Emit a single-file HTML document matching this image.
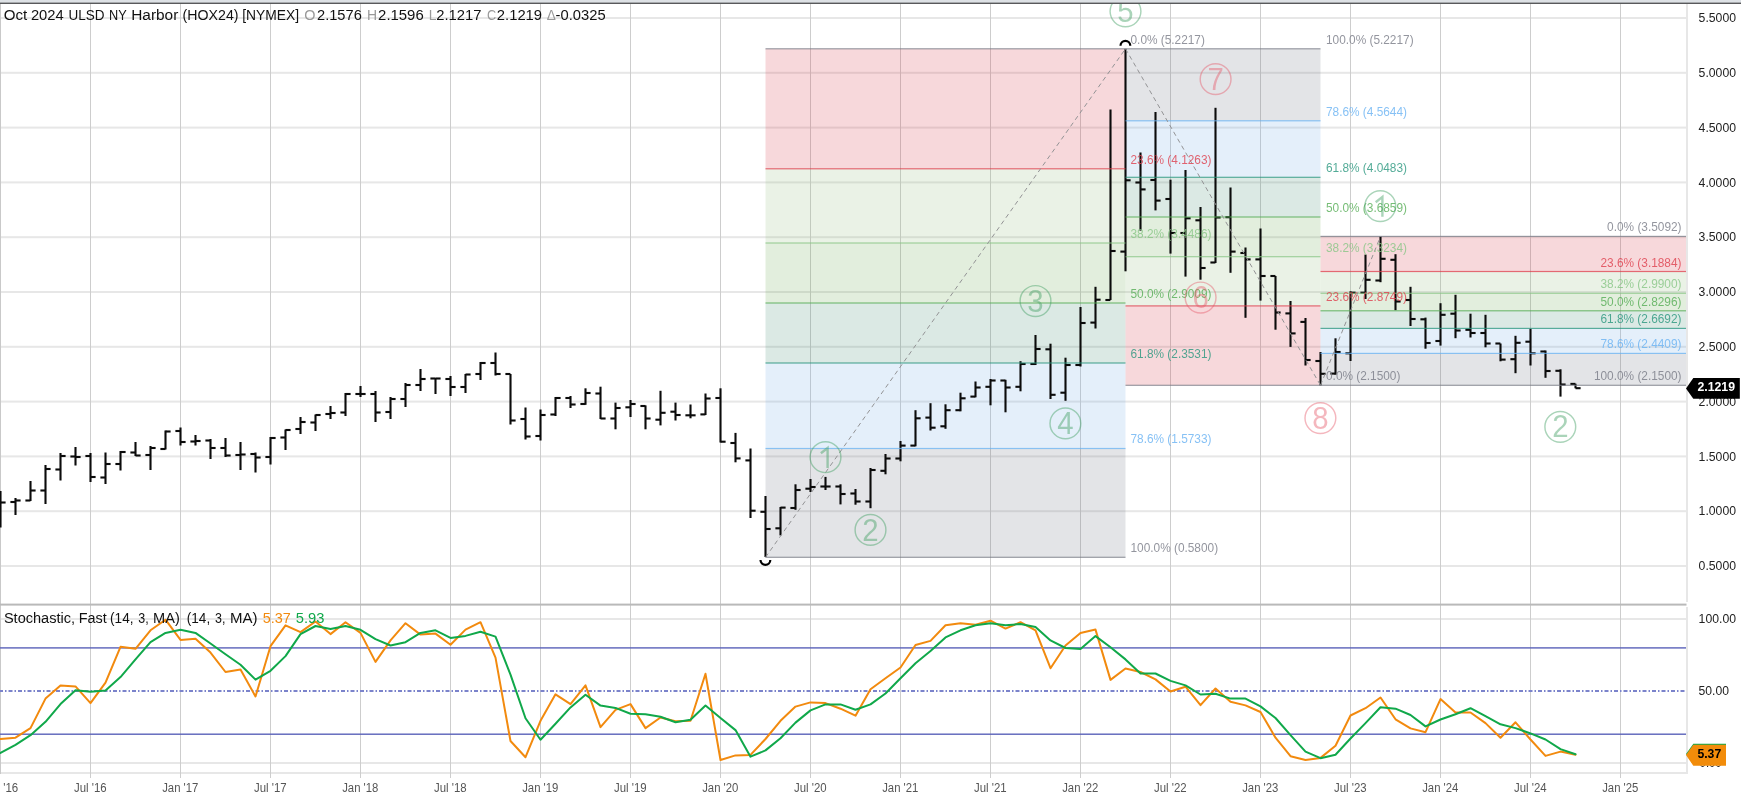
<!DOCTYPE html>
<html><head><meta charset="utf-8"><title>HOX24 chart</title>
<style>html,body{margin:0;padding:0;background:#fff;overflow:hidden}body{width:1741px;height:800px;font-family:"Liberation Sans",sans-serif}</style></head>
<body>
<svg width="1741" height="800" viewBox="0 0 1741 800" style="display:block">
<rect x="0" y="0" width="1741" height="800" fill="#ffffff"/>
<defs><filter id="nf" x="0" y="0" width="100%" height="100%" filterUnits="userSpaceOnUse" color-interpolation-filters="sRGB"><feOffset dx="0" dy="0"/></filter></defs>
<g filter="url(#nf)">
<rect x="0" y="17.0" width="1686.0" height="2" fill="#e7e7e7"/>
<rect x="0" y="71.8" width="1686.0" height="2" fill="#e7e7e7"/>
<rect x="0" y="126.6" width="1686.0" height="2" fill="#e7e7e7"/>
<rect x="0" y="181.4" width="1686.0" height="2" fill="#e7e7e7"/>
<rect x="0" y="236.2" width="1686.0" height="2" fill="#e7e7e7"/>
<rect x="0" y="291.0" width="1686.0" height="2" fill="#e7e7e7"/>
<rect x="0" y="345.8" width="1686.0" height="2" fill="#e7e7e7"/>
<rect x="0" y="400.6" width="1686.0" height="2" fill="#e7e7e7"/>
<rect x="0" y="455.4" width="1686.0" height="2" fill="#e7e7e7"/>
<rect x="0" y="510.2" width="1686.0" height="2" fill="#e7e7e7"/>
<rect x="0" y="565.0" width="1686.0" height="2" fill="#e7e7e7"/>
<rect x="0" y="618" width="1686.0" height="2" fill="#e7e7e7"/>
<rect x="0" y="762" width="1686.0" height="2" fill="#e7e7e7"/>
<rect x="0" y="772" width="1688.0" height="2" fill="#e7e7e7"/>
<rect x="90" y="4" width="1" height="774" fill="#cdcdcd"/>
<rect x="180" y="4" width="1" height="774" fill="#cdcdcd"/>
<rect x="270" y="4" width="1" height="774" fill="#cdcdcd"/>
<rect x="360" y="4" width="1" height="774" fill="#cdcdcd"/>
<rect x="450" y="4" width="1" height="774" fill="#cdcdcd"/>
<rect x="540" y="4" width="1" height="774" fill="#cdcdcd"/>
<rect x="630" y="4" width="1" height="774" fill="#cdcdcd"/>
<rect x="720" y="4" width="1" height="774" fill="#cdcdcd"/>
<rect x="810" y="4" width="1" height="774" fill="#cdcdcd"/>
<rect x="900" y="4" width="1" height="774" fill="#cdcdcd"/>
<rect x="990" y="4" width="1" height="774" fill="#cdcdcd"/>
<rect x="1080" y="4" width="1" height="774" fill="#cdcdcd"/>
<rect x="1170" y="4" width="1" height="774" fill="#cdcdcd"/>
<rect x="1260" y="4" width="1" height="774" fill="#cdcdcd"/>
<rect x="1350" y="4" width="1" height="774" fill="#cdcdcd"/>
<rect x="1440" y="4" width="1" height="774" fill="#cdcdcd"/>
<rect x="1530" y="4" width="1" height="774" fill="#cdcdcd"/>
<rect x="1620" y="4" width="1" height="774" fill="#cdcdcd"/>
<rect x="0" y="4" width="1" height="770" fill="#c9c9c9"/>
<rect x="765.5" y="48.8" width="360.0" height="120.0" fill="rgba(215,62,76,0.2)"/>
<rect x="765.5" y="168.8" width="360.0" height="74.2" fill="rgba(150,192,130,0.2)"/>
<rect x="765.5" y="243.0" width="360.0" height="60.0" fill="rgba(112,172,84,0.2)"/>
<rect x="765.5" y="303.0" width="360.0" height="60.0" fill="rgba(76,146,122,0.2)"/>
<rect x="765.5" y="363.0" width="360.0" height="85.4" fill="rgba(122,175,232,0.2)"/>
<rect x="765.5" y="448.5" width="360.0" height="108.8" fill="rgba(114,119,134,0.2)"/>
<rect x="1125.5" y="305.9" width="195.0" height="79.4" fill="rgba(215,62,76,0.2)"/>
<rect x="1125.5" y="256.7" width="195.0" height="49.1" fill="rgba(150,192,130,0.2)"/>
<rect x="1125.5" y="217.0" width="195.0" height="39.7" fill="rgba(112,172,84,0.2)"/>
<rect x="1125.5" y="177.3" width="195.0" height="39.7" fill="rgba(76,146,122,0.2)"/>
<rect x="1125.5" y="120.8" width="195.0" height="56.5" fill="rgba(122,175,232,0.2)"/>
<rect x="1125.5" y="48.8" width="195.0" height="72.0" fill="rgba(114,119,134,0.2)"/>
<rect x="1320.5" y="236.4" width="366.0" height="35.1" fill="rgba(215,62,76,0.2)"/>
<rect x="1320.5" y="271.5" width="366.0" height="21.7" fill="rgba(150,192,130,0.2)"/>
<rect x="1320.5" y="293.3" width="366.0" height="17.6" fill="rgba(112,172,84,0.2)"/>
<rect x="1320.5" y="310.8" width="366.0" height="17.6" fill="rgba(76,146,122,0.2)"/>
<rect x="1320.5" y="328.4" width="366.0" height="25.0" fill="rgba(122,175,232,0.2)"/>
<rect x="1320.5" y="353.4" width="366.0" height="31.9" fill="rgba(114,119,134,0.2)"/>
<rect x="-0.55" y="491.0" width="2.1" height="36.5" fill="#0b0b0b"/>
<rect x="-4.6" y="500.95" width="5" height="2.1" fill="#0b0b0b"/>
<rect x="0.5" y="501.45" width="5.1" height="2.1" fill="#0b0b0b"/>
<rect x="14.45" y="498.0" width="2.1" height="17.0" fill="#0b0b0b"/>
<rect x="10.4" y="500.95" width="5" height="2.1" fill="#0b0b0b"/>
<rect x="15.5" y="499.45" width="5.1" height="2.1" fill="#0b0b0b"/>
<rect x="29.45" y="481.0" width="2.1" height="20.0" fill="#0b0b0b"/>
<rect x="25.4" y="499.45" width="5" height="2.1" fill="#0b0b0b"/>
<rect x="30.5" y="489.45" width="5.1" height="2.1" fill="#0b0b0b"/>
<rect x="44.45" y="465.0" width="2.1" height="39.0" fill="#0b0b0b"/>
<rect x="40.4" y="489.45" width="5" height="2.1" fill="#0b0b0b"/>
<rect x="45.5" y="467.95" width="5.1" height="2.1" fill="#0b0b0b"/>
<rect x="59.45" y="453.0" width="2.1" height="27.5" fill="#0b0b0b"/>
<rect x="55.4" y="468.45" width="5" height="2.1" fill="#0b0b0b"/>
<rect x="60.5" y="454.95" width="5.1" height="2.1" fill="#0b0b0b"/>
<rect x="74.45" y="447.0" width="2.1" height="18.5" fill="#0b0b0b"/>
<rect x="70.4" y="455.45" width="5" height="2.1" fill="#0b0b0b"/>
<rect x="75.5" y="455.95" width="5.1" height="2.1" fill="#0b0b0b"/>
<rect x="89.45" y="453.0" width="2.1" height="29.0" fill="#0b0b0b"/>
<rect x="85.4" y="454.95" width="5" height="2.1" fill="#0b0b0b"/>
<rect x="90.5" y="475.95" width="5.1" height="2.1" fill="#0b0b0b"/>
<rect x="104.45" y="452.5" width="2.1" height="31.5" fill="#0b0b0b"/>
<rect x="100.4" y="476.45" width="5" height="2.1" fill="#0b0b0b"/>
<rect x="105.5" y="462.95" width="5.1" height="2.1" fill="#0b0b0b"/>
<rect x="119.45" y="451.0" width="2.1" height="19.5" fill="#0b0b0b"/>
<rect x="115.4" y="462.95" width="5" height="2.1" fill="#0b0b0b"/>
<rect x="120.5" y="450.95" width="5.1" height="2.1" fill="#0b0b0b"/>
<rect x="134.45" y="442.0" width="2.1" height="14.0" fill="#0b0b0b"/>
<rect x="130.4" y="451.45" width="5" height="2.1" fill="#0b0b0b"/>
<rect x="135.5" y="454.45" width="5.1" height="2.1" fill="#0b0b0b"/>
<rect x="149.45" y="446.0" width="2.1" height="24.0" fill="#0b0b0b"/>
<rect x="145.4" y="453.95" width="5" height="2.1" fill="#0b0b0b"/>
<rect x="150.5" y="446.95" width="5.1" height="2.1" fill="#0b0b0b"/>
<rect x="164.45" y="430.5" width="2.1" height="19.0" fill="#0b0b0b"/>
<rect x="160.4" y="447.95" width="5" height="2.1" fill="#0b0b0b"/>
<rect x="165.5" y="430.45" width="5.1" height="2.1" fill="#0b0b0b"/>
<rect x="179.45" y="427.5" width="2.1" height="18.0" fill="#0b0b0b"/>
<rect x="175.4" y="429.95" width="5" height="2.1" fill="#0b0b0b"/>
<rect x="180.5" y="440.95" width="5.1" height="2.1" fill="#0b0b0b"/>
<rect x="194.45" y="435.0" width="2.1" height="10.5" fill="#0b0b0b"/>
<rect x="190.4" y="440.45" width="5" height="2.1" fill="#0b0b0b"/>
<rect x="195.5" y="439.95" width="5.1" height="2.1" fill="#0b0b0b"/>
<rect x="209.45" y="439.0" width="2.1" height="20.0" fill="#0b0b0b"/>
<rect x="205.4" y="439.45" width="5" height="2.1" fill="#0b0b0b"/>
<rect x="210.5" y="446.95" width="5.1" height="2.1" fill="#0b0b0b"/>
<rect x="224.45" y="438.0" width="2.1" height="19.0" fill="#0b0b0b"/>
<rect x="220.4" y="446.95" width="5" height="2.1" fill="#0b0b0b"/>
<rect x="225.5" y="454.45" width="5.1" height="2.1" fill="#0b0b0b"/>
<rect x="239.45" y="442.0" width="2.1" height="28.0" fill="#0b0b0b"/>
<rect x="235.4" y="453.95" width="5" height="2.1" fill="#0b0b0b"/>
<rect x="240.5" y="453.45" width="5.1" height="2.1" fill="#0b0b0b"/>
<rect x="254.45" y="452.5" width="2.1" height="20.0" fill="#0b0b0b"/>
<rect x="250.4" y="452.95" width="5" height="2.1" fill="#0b0b0b"/>
<rect x="255.5" y="456.45" width="5.1" height="2.1" fill="#0b0b0b"/>
<rect x="269.45" y="437.0" width="2.1" height="27.5" fill="#0b0b0b"/>
<rect x="265.4" y="455.95" width="5" height="2.1" fill="#0b0b0b"/>
<rect x="270.5" y="436.95" width="5.1" height="2.1" fill="#0b0b0b"/>
<rect x="284.45" y="429.5" width="2.1" height="20.5" fill="#0b0b0b"/>
<rect x="280.4" y="436.45" width="5" height="2.1" fill="#0b0b0b"/>
<rect x="285.5" y="428.95" width="5.1" height="2.1" fill="#0b0b0b"/>
<rect x="299.45" y="417.0" width="2.1" height="17.0" fill="#0b0b0b"/>
<rect x="295.4" y="427.95" width="5" height="2.1" fill="#0b0b0b"/>
<rect x="300.5" y="420.95" width="5.1" height="2.1" fill="#0b0b0b"/>
<rect x="314.45" y="414.5" width="2.1" height="16.5" fill="#0b0b0b"/>
<rect x="310.4" y="421.45" width="5" height="2.1" fill="#0b0b0b"/>
<rect x="315.5" y="413.95" width="5.1" height="2.1" fill="#0b0b0b"/>
<rect x="329.45" y="406.0" width="2.1" height="13.0" fill="#0b0b0b"/>
<rect x="325.4" y="412.95" width="5" height="2.1" fill="#0b0b0b"/>
<rect x="330.5" y="411.95" width="5.1" height="2.1" fill="#0b0b0b"/>
<rect x="344.45" y="393.0" width="2.1" height="23.0" fill="#0b0b0b"/>
<rect x="340.4" y="411.45" width="5" height="2.1" fill="#0b0b0b"/>
<rect x="345.5" y="392.95" width="5.1" height="2.1" fill="#0b0b0b"/>
<rect x="359.45" y="386.0" width="2.1" height="11.0" fill="#0b0b0b"/>
<rect x="355.4" y="392.95" width="5" height="2.1" fill="#0b0b0b"/>
<rect x="360.5" y="392.95" width="5.1" height="2.1" fill="#0b0b0b"/>
<rect x="374.45" y="391.0" width="2.1" height="31.0" fill="#0b0b0b"/>
<rect x="370.4" y="392.95" width="5" height="2.1" fill="#0b0b0b"/>
<rect x="375.5" y="411.45" width="5.1" height="2.1" fill="#0b0b0b"/>
<rect x="389.45" y="397.0" width="2.1" height="22.0" fill="#0b0b0b"/>
<rect x="385.4" y="410.95" width="5" height="2.1" fill="#0b0b0b"/>
<rect x="390.5" y="397.95" width="5.1" height="2.1" fill="#0b0b0b"/>
<rect x="404.45" y="383.0" width="2.1" height="24.0" fill="#0b0b0b"/>
<rect x="400.4" y="397.95" width="5" height="2.1" fill="#0b0b0b"/>
<rect x="405.5" y="383.95" width="5.1" height="2.1" fill="#0b0b0b"/>
<rect x="419.45" y="369.0" width="2.1" height="22.0" fill="#0b0b0b"/>
<rect x="415.4" y="383.95" width="5" height="2.1" fill="#0b0b0b"/>
<rect x="420.5" y="377.95" width="5.1" height="2.1" fill="#0b0b0b"/>
<rect x="434.45" y="378.0" width="2.1" height="16.0" fill="#0b0b0b"/>
<rect x="430.4" y="377.45" width="5" height="2.1" fill="#0b0b0b"/>
<rect x="435.5" y="377.45" width="5.1" height="2.1" fill="#0b0b0b"/>
<rect x="449.45" y="376.0" width="2.1" height="20.0" fill="#0b0b0b"/>
<rect x="445.4" y="377.95" width="5" height="2.1" fill="#0b0b0b"/>
<rect x="450.5" y="385.95" width="5.1" height="2.1" fill="#0b0b0b"/>
<rect x="464.45" y="374.0" width="2.1" height="19.0" fill="#0b0b0b"/>
<rect x="460.4" y="385.95" width="5" height="2.1" fill="#0b0b0b"/>
<rect x="465.5" y="373.45" width="5.1" height="2.1" fill="#0b0b0b"/>
<rect x="479.45" y="362.0" width="2.1" height="18.0" fill="#0b0b0b"/>
<rect x="475.4" y="372.95" width="5" height="2.1" fill="#0b0b0b"/>
<rect x="480.5" y="361.95" width="5.1" height="2.1" fill="#0b0b0b"/>
<rect x="494.45" y="352.5" width="2.1" height="23.0" fill="#0b0b0b"/>
<rect x="490.4" y="361.95" width="5" height="2.1" fill="#0b0b0b"/>
<rect x="495.5" y="372.95" width="5.1" height="2.1" fill="#0b0b0b"/>
<rect x="509.45" y="374.0" width="2.1" height="50.5" fill="#0b0b0b"/>
<rect x="505.4" y="372.95" width="5" height="2.1" fill="#0b0b0b"/>
<rect x="510.5" y="419.45" width="5.1" height="2.1" fill="#0b0b0b"/>
<rect x="524.45" y="407.5" width="2.1" height="32.0" fill="#0b0b0b"/>
<rect x="520.4" y="417.95" width="5" height="2.1" fill="#0b0b0b"/>
<rect x="525.5" y="435.45" width="5.1" height="2.1" fill="#0b0b0b"/>
<rect x="539.45" y="409.5" width="2.1" height="31.0" fill="#0b0b0b"/>
<rect x="535.4" y="434.95" width="5" height="2.1" fill="#0b0b0b"/>
<rect x="540.5" y="413.95" width="5.1" height="2.1" fill="#0b0b0b"/>
<rect x="554.45" y="397.0" width="2.1" height="19.0" fill="#0b0b0b"/>
<rect x="550.4" y="413.45" width="5" height="2.1" fill="#0b0b0b"/>
<rect x="555.5" y="396.95" width="5.1" height="2.1" fill="#0b0b0b"/>
<rect x="569.45" y="396.0" width="2.1" height="12.0" fill="#0b0b0b"/>
<rect x="565.4" y="396.95" width="5" height="2.1" fill="#0b0b0b"/>
<rect x="570.5" y="403.45" width="5.1" height="2.1" fill="#0b0b0b"/>
<rect x="584.45" y="388.3" width="2.1" height="16.5" fill="#0b0b0b"/>
<rect x="580.4" y="402.95" width="5" height="2.1" fill="#0b0b0b"/>
<rect x="585.5" y="391.95" width="5.1" height="2.1" fill="#0b0b0b"/>
<rect x="599.45" y="386.7" width="2.1" height="32.3" fill="#0b0b0b"/>
<rect x="595.4" y="392.45" width="5" height="2.1" fill="#0b0b0b"/>
<rect x="600.5" y="417.45" width="5.1" height="2.1" fill="#0b0b0b"/>
<rect x="614.45" y="402.6" width="2.1" height="26.7" fill="#0b0b0b"/>
<rect x="610.4" y="417.45" width="5" height="2.1" fill="#0b0b0b"/>
<rect x="615.5" y="406.95" width="5.1" height="2.1" fill="#0b0b0b"/>
<rect x="629.45" y="400.0" width="2.1" height="17.0" fill="#0b0b0b"/>
<rect x="625.4" y="406.25" width="5" height="2.1" fill="#0b0b0b"/>
<rect x="630.5" y="402.95" width="5.1" height="2.1" fill="#0b0b0b"/>
<rect x="644.45" y="405.4" width="2.1" height="23.9" fill="#0b0b0b"/>
<rect x="640.4" y="404.95" width="5" height="2.1" fill="#0b0b0b"/>
<rect x="645.5" y="417.45" width="5.1" height="2.1" fill="#0b0b0b"/>
<rect x="659.45" y="390.8" width="2.1" height="34.6" fill="#0b0b0b"/>
<rect x="655.4" y="418.65" width="5" height="2.1" fill="#0b0b0b"/>
<rect x="660.5" y="411.75" width="5.1" height="2.1" fill="#0b0b0b"/>
<rect x="674.45" y="402.6" width="2.1" height="17.9" fill="#0b0b0b"/>
<rect x="670.4" y="410.65" width="5" height="2.1" fill="#0b0b0b"/>
<rect x="675.5" y="413.95" width="5.1" height="2.1" fill="#0b0b0b"/>
<rect x="689.45" y="404.5" width="2.1" height="13.8" fill="#0b0b0b"/>
<rect x="685.4" y="414.25" width="5" height="2.1" fill="#0b0b0b"/>
<rect x="690.5" y="414.25" width="5.1" height="2.1" fill="#0b0b0b"/>
<rect x="704.45" y="393.5" width="2.1" height="21.5" fill="#0b0b0b"/>
<rect x="700.4" y="413.35" width="5" height="2.1" fill="#0b0b0b"/>
<rect x="705.5" y="397.45" width="5.1" height="2.1" fill="#0b0b0b"/>
<rect x="719.45" y="388.3" width="2.1" height="54.2" fill="#0b0b0b"/>
<rect x="715.4" y="396.95" width="5" height="2.1" fill="#0b0b0b"/>
<rect x="720.5" y="440.65" width="5.1" height="2.1" fill="#0b0b0b"/>
<rect x="734.45" y="432.9" width="2.1" height="29.4" fill="#0b0b0b"/>
<rect x="730.4" y="441.95" width="5" height="2.1" fill="#0b0b0b"/>
<rect x="735.5" y="457.35" width="5.1" height="2.1" fill="#0b0b0b"/>
<rect x="749.45" y="448.5" width="2.1" height="69.5" fill="#0b0b0b"/>
<rect x="745.4" y="459.35" width="5" height="2.1" fill="#0b0b0b"/>
<rect x="750.5" y="509.65" width="5.1" height="2.1" fill="#0b0b0b"/>
<rect x="764.45" y="496.0" width="2.1" height="61.0" fill="#0b0b0b"/>
<rect x="760.4" y="510.75" width="5" height="2.1" fill="#0b0b0b"/>
<rect x="765.5" y="527.95" width="5.1" height="2.1" fill="#0b0b0b"/>
<rect x="779.45" y="507.0" width="2.1" height="28.4" fill="#0b0b0b"/>
<rect x="775.4" y="527.25" width="5" height="2.1" fill="#0b0b0b"/>
<rect x="780.5" y="506.55" width="5.1" height="2.1" fill="#0b0b0b"/>
<rect x="794.45" y="484.3" width="2.1" height="25.5" fill="#0b0b0b"/>
<rect x="790.4" y="506.95" width="5" height="2.1" fill="#0b0b0b"/>
<rect x="795.5" y="488.95" width="5.1" height="2.1" fill="#0b0b0b"/>
<rect x="809.45" y="479.0" width="2.1" height="13.0" fill="#0b0b0b"/>
<rect x="805.4" y="487.65" width="5" height="2.1" fill="#0b0b0b"/>
<rect x="810.5" y="485.95" width="5.1" height="2.1" fill="#0b0b0b"/>
<rect x="824.45" y="476.9" width="2.1" height="13.1" fill="#0b0b0b"/>
<rect x="820.4" y="485.45" width="5" height="2.1" fill="#0b0b0b"/>
<rect x="825.5" y="485.45" width="5.1" height="2.1" fill="#0b0b0b"/>
<rect x="839.45" y="484.3" width="2.1" height="20.1" fill="#0b0b0b"/>
<rect x="835.4" y="485.45" width="5" height="2.1" fill="#0b0b0b"/>
<rect x="840.5" y="492.95" width="5.1" height="2.1" fill="#0b0b0b"/>
<rect x="854.45" y="489.0" width="2.1" height="15.7" fill="#0b0b0b"/>
<rect x="850.4" y="492.45" width="5" height="2.1" fill="#0b0b0b"/>
<rect x="855.5" y="500.45" width="5.1" height="2.1" fill="#0b0b0b"/>
<rect x="869.45" y="468.0" width="2.1" height="40.2" fill="#0b0b0b"/>
<rect x="865.4" y="500.45" width="5" height="2.1" fill="#0b0b0b"/>
<rect x="870.5" y="468.95" width="5.1" height="2.1" fill="#0b0b0b"/>
<rect x="884.45" y="454.0" width="2.1" height="20.3" fill="#0b0b0b"/>
<rect x="880.4" y="469.75" width="5" height="2.1" fill="#0b0b0b"/>
<rect x="885.5" y="457.45" width="5.1" height="2.1" fill="#0b0b0b"/>
<rect x="899.45" y="441.0" width="2.1" height="20.3" fill="#0b0b0b"/>
<rect x="895.4" y="457.45" width="5" height="2.1" fill="#0b0b0b"/>
<rect x="900.5" y="444.55" width="5.1" height="2.1" fill="#0b0b0b"/>
<rect x="914.45" y="410.2" width="2.1" height="36.1" fill="#0b0b0b"/>
<rect x="910.4" y="444.55" width="5" height="2.1" fill="#0b0b0b"/>
<rect x="915.5" y="417.25" width="5.1" height="2.1" fill="#0b0b0b"/>
<rect x="929.45" y="403.2" width="2.1" height="27.3" fill="#0b0b0b"/>
<rect x="925.4" y="416.55" width="5" height="2.1" fill="#0b0b0b"/>
<rect x="930.5" y="426.65" width="5.1" height="2.1" fill="#0b0b0b"/>
<rect x="944.45" y="404.3" width="2.1" height="24.5" fill="#0b0b0b"/>
<rect x="940.4" y="425.25" width="5" height="2.1" fill="#0b0b0b"/>
<rect x="945.5" y="409.15" width="5.1" height="2.1" fill="#0b0b0b"/>
<rect x="959.45" y="392.7" width="2.1" height="18.6" fill="#0b0b0b"/>
<rect x="955.4" y="409.15" width="5" height="2.1" fill="#0b0b0b"/>
<rect x="960.5" y="397.25" width="5.1" height="2.1" fill="#0b0b0b"/>
<rect x="974.45" y="381.5" width="2.1" height="15.8" fill="#0b0b0b"/>
<rect x="970.4" y="395.55" width="5" height="2.1" fill="#0b0b0b"/>
<rect x="975.5" y="386.45" width="5.1" height="2.1" fill="#0b0b0b"/>
<rect x="989.45" y="379.0" width="2.1" height="26.3" fill="#0b0b0b"/>
<rect x="985.4" y="385.75" width="5" height="2.1" fill="#0b0b0b"/>
<rect x="990.5" y="379.45" width="5.1" height="2.1" fill="#0b0b0b"/>
<rect x="1004.45" y="379.8" width="2.1" height="32.5" fill="#0b0b0b"/>
<rect x="1000.4" y="379.45" width="5" height="2.1" fill="#0b0b0b"/>
<rect x="1005.5" y="386.45" width="5.1" height="2.1" fill="#0b0b0b"/>
<rect x="1019.45" y="361.2" width="2.1" height="30.1" fill="#0b0b0b"/>
<rect x="1015.4" y="385.75" width="5" height="2.1" fill="#0b0b0b"/>
<rect x="1020.5" y="362.95" width="5.1" height="2.1" fill="#0b0b0b"/>
<rect x="1034.45" y="335.0" width="2.1" height="30.0" fill="#0b0b0b"/>
<rect x="1030.4" y="362.95" width="5" height="2.1" fill="#0b0b0b"/>
<rect x="1035.5" y="347.95" width="5.1" height="2.1" fill="#0b0b0b"/>
<rect x="1049.45" y="343.7" width="2.1" height="55.3" fill="#0b0b0b"/>
<rect x="1045.4" y="348.25" width="5" height="2.1" fill="#0b0b0b"/>
<rect x="1050.5" y="393.75" width="5.1" height="2.1" fill="#0b0b0b"/>
<rect x="1064.45" y="357.7" width="2.1" height="43.1" fill="#0b0b0b"/>
<rect x="1060.4" y="391.65" width="5" height="2.1" fill="#0b0b0b"/>
<rect x="1065.5" y="363.95" width="5.1" height="2.1" fill="#0b0b0b"/>
<rect x="1079.45" y="307.0" width="2.1" height="59.5" fill="#0b0b0b"/>
<rect x="1075.4" y="363.95" width="5" height="2.1" fill="#0b0b0b"/>
<rect x="1080.5" y="321.95" width="5.1" height="2.1" fill="#0b0b0b"/>
<rect x="1094.45" y="286.8" width="2.1" height="41.7" fill="#0b0b0b"/>
<rect x="1090.4" y="321.55" width="5" height="2.1" fill="#0b0b0b"/>
<rect x="1095.5" y="298.65" width="5.1" height="2.1" fill="#0b0b0b"/>
<rect x="1109.45" y="109.5" width="2.1" height="190.5" fill="#0b0b0b"/>
<rect x="1105.4" y="298.95" width="5" height="2.1" fill="#0b0b0b"/>
<rect x="1110.5" y="249.95" width="5.1" height="2.1" fill="#0b0b0b"/>
<rect x="1124.45" y="48.8" width="2.1" height="222.5" fill="#0b0b0b"/>
<rect x="1120.4" y="250.55" width="5" height="2.1" fill="#0b0b0b"/>
<rect x="1125.5" y="179.25" width="5.1" height="2.1" fill="#0b0b0b"/>
<rect x="1139.45" y="152.5" width="2.1" height="78.1" fill="#0b0b0b"/>
<rect x="1135.4" y="181.45" width="5" height="2.1" fill="#0b0b0b"/>
<rect x="1140.5" y="188.35" width="5.1" height="2.1" fill="#0b0b0b"/>
<rect x="1154.45" y="112.0" width="2.1" height="98.4" fill="#0b0b0b"/>
<rect x="1150.4" y="178.95" width="5" height="2.1" fill="#0b0b0b"/>
<rect x="1155.5" y="199.55" width="5.1" height="2.1" fill="#0b0b0b"/>
<rect x="1169.45" y="179.7" width="2.1" height="73.9" fill="#0b0b0b"/>
<rect x="1165.4" y="197.95" width="5" height="2.1" fill="#0b0b0b"/>
<rect x="1170.5" y="231.95" width="5.1" height="2.1" fill="#0b0b0b"/>
<rect x="1184.45" y="170.0" width="2.1" height="106.6" fill="#0b0b0b"/>
<rect x="1180.4" y="231.95" width="5" height="2.1" fill="#0b0b0b"/>
<rect x="1185.5" y="217.25" width="5.1" height="2.1" fill="#0b0b0b"/>
<rect x="1199.45" y="207.0" width="2.1" height="72.7" fill="#0b0b0b"/>
<rect x="1195.4" y="219.25" width="5" height="2.1" fill="#0b0b0b"/>
<rect x="1200.5" y="266.95" width="5.1" height="2.1" fill="#0b0b0b"/>
<rect x="1214.45" y="107.8" width="2.1" height="155.2" fill="#0b0b0b"/>
<rect x="1210.4" y="261.45" width="5" height="2.1" fill="#0b0b0b"/>
<rect x="1215.5" y="216.45" width="5.1" height="2.1" fill="#0b0b0b"/>
<rect x="1229.45" y="187.5" width="2.1" height="85.3" fill="#0b0b0b"/>
<rect x="1225.4" y="216.15" width="5" height="2.1" fill="#0b0b0b"/>
<rect x="1230.5" y="250.55" width="5.1" height="2.1" fill="#0b0b0b"/>
<rect x="1244.45" y="247.5" width="2.1" height="70.3" fill="#0b0b0b"/>
<rect x="1240.4" y="251.95" width="5" height="2.1" fill="#0b0b0b"/>
<rect x="1245.5" y="258.35" width="5.1" height="2.1" fill="#0b0b0b"/>
<rect x="1259.45" y="228.5" width="2.1" height="72.1" fill="#0b0b0b"/>
<rect x="1255.4" y="258.35" width="5" height="2.1" fill="#0b0b0b"/>
<rect x="1260.5" y="274.95" width="5.1" height="2.1" fill="#0b0b0b"/>
<rect x="1274.45" y="276.0" width="2.1" height="53.7" fill="#0b0b0b"/>
<rect x="1270.4" y="274.95" width="5" height="2.1" fill="#0b0b0b"/>
<rect x="1275.5" y="311.45" width="5.1" height="2.1" fill="#0b0b0b"/>
<rect x="1289.45" y="301.0" width="2.1" height="45.9" fill="#0b0b0b"/>
<rect x="1285.4" y="312.35" width="5" height="2.1" fill="#0b0b0b"/>
<rect x="1290.5" y="332.35" width="5.1" height="2.1" fill="#0b0b0b"/>
<rect x="1304.45" y="318.0" width="2.1" height="47.5" fill="#0b0b0b"/>
<rect x="1300.4" y="320.85" width="5" height="2.1" fill="#0b0b0b"/>
<rect x="1305.5" y="358.95" width="5.1" height="2.1" fill="#0b0b0b"/>
<rect x="1319.45" y="352.0" width="2.1" height="33.5" fill="#0b0b0b"/>
<rect x="1315.4" y="359.95" width="5" height="2.1" fill="#0b0b0b"/>
<rect x="1320.5" y="372.75" width="5.1" height="2.1" fill="#0b0b0b"/>
<rect x="1334.45" y="338.3" width="2.1" height="36.4" fill="#0b0b0b"/>
<rect x="1330.4" y="372.55" width="5" height="2.1" fill="#0b0b0b"/>
<rect x="1335.5" y="350.95" width="5.1" height="2.1" fill="#0b0b0b"/>
<rect x="1349.45" y="291.3" width="2.1" height="69.7" fill="#0b0b0b"/>
<rect x="1345.4" y="352.25" width="5" height="2.1" fill="#0b0b0b"/>
<rect x="1350.5" y="291.65" width="5.1" height="2.1" fill="#0b0b0b"/>
<rect x="1364.45" y="254.6" width="2.1" height="44.4" fill="#0b0b0b"/>
<rect x="1360.4" y="291.65" width="5" height="2.1" fill="#0b0b0b"/>
<rect x="1365.5" y="278.75" width="5.1" height="2.1" fill="#0b0b0b"/>
<rect x="1379.45" y="236.5" width="2.1" height="45.7" fill="#0b0b0b"/>
<rect x="1375.4" y="279.45" width="5" height="2.1" fill="#0b0b0b"/>
<rect x="1380.5" y="257.75" width="5.1" height="2.1" fill="#0b0b0b"/>
<rect x="1394.45" y="254.2" width="2.1" height="56.0" fill="#0b0b0b"/>
<rect x="1390.4" y="258.75" width="5" height="2.1" fill="#0b0b0b"/>
<rect x="1395.5" y="300.45" width="5.1" height="2.1" fill="#0b0b0b"/>
<rect x="1409.45" y="286.8" width="2.1" height="39.2" fill="#0b0b0b"/>
<rect x="1405.4" y="298.95" width="5" height="2.1" fill="#0b0b0b"/>
<rect x="1410.5" y="317.95" width="5.1" height="2.1" fill="#0b0b0b"/>
<rect x="1424.45" y="317.6" width="2.1" height="31.1" fill="#0b0b0b"/>
<rect x="1420.4" y="318.25" width="5" height="2.1" fill="#0b0b0b"/>
<rect x="1425.5" y="341.95" width="5.1" height="2.1" fill="#0b0b0b"/>
<rect x="1439.45" y="303.2" width="2.1" height="42.4" fill="#0b0b0b"/>
<rect x="1435.4" y="339.95" width="5" height="2.1" fill="#0b0b0b"/>
<rect x="1440.5" y="313.75" width="5.1" height="2.1" fill="#0b0b0b"/>
<rect x="1454.45" y="294.8" width="2.1" height="43.4" fill="#0b0b0b"/>
<rect x="1450.4" y="312.65" width="5" height="2.1" fill="#0b0b0b"/>
<rect x="1455.5" y="329.45" width="5.1" height="2.1" fill="#0b0b0b"/>
<rect x="1469.45" y="313.7" width="2.1" height="23.8" fill="#0b0b0b"/>
<rect x="1465.4" y="328.75" width="5" height="2.1" fill="#0b0b0b"/>
<rect x="1470.5" y="331.95" width="5.1" height="2.1" fill="#0b0b0b"/>
<rect x="1484.45" y="314.8" width="2.1" height="32.5" fill="#0b0b0b"/>
<rect x="1480.4" y="331.95" width="5" height="2.1" fill="#0b0b0b"/>
<rect x="1485.5" y="342.45" width="5.1" height="2.1" fill="#0b0b0b"/>
<rect x="1499.45" y="343.5" width="2.1" height="17.8" fill="#0b0b0b"/>
<rect x="1495.4" y="342.45" width="5" height="2.1" fill="#0b0b0b"/>
<rect x="1500.5" y="358.55" width="5.1" height="2.1" fill="#0b0b0b"/>
<rect x="1514.45" y="335.8" width="2.1" height="37.4" fill="#0b0b0b"/>
<rect x="1510.4" y="358.15" width="5" height="2.1" fill="#0b0b0b"/>
<rect x="1515.5" y="341.75" width="5.1" height="2.1" fill="#0b0b0b"/>
<rect x="1529.45" y="328.8" width="2.1" height="36.7" fill="#0b0b0b"/>
<rect x="1525.4" y="340.65" width="5" height="2.1" fill="#0b0b0b"/>
<rect x="1530.5" y="352.25" width="5.1" height="2.1" fill="#0b0b0b"/>
<rect x="1544.45" y="350.5" width="2.1" height="27.3" fill="#0b0b0b"/>
<rect x="1540.4" y="350.45" width="5" height="2.1" fill="#0b0b0b"/>
<rect x="1545.5" y="369.95" width="5.1" height="2.1" fill="#0b0b0b"/>
<rect x="1559.45" y="369.3" width="2.1" height="27.3" fill="#0b0b0b"/>
<rect x="1555.4" y="369.75" width="5" height="2.1" fill="#0b0b0b"/>
<rect x="1560.5" y="383.45" width="5.1" height="2.1" fill="#0b0b0b"/>
<rect x="1574.45" y="383.7" width="2.1" height="4.6" fill="#0b0b0b"/>
<rect x="1570.4" y="382.85" width="5" height="2.1" fill="#0b0b0b"/>
<rect x="1575.5" y="387.15" width="5.1" height="2.1" fill="#0b0b0b"/>
<rect x="765.5" y="48.2" width="360.0" height="1.2" fill="rgba(120,123,134,0.75)"/>
<rect x="765.5" y="168.2" width="360.0" height="1.2" fill="rgba(222,62,76,0.75)"/>
<rect x="765.5" y="242.4" width="360.0" height="1.2" fill="rgba(135,198,132,0.75)"/>
<rect x="765.5" y="302.4" width="360.0" height="1.2" fill="rgba(84,172,84,0.75)"/>
<rect x="765.5" y="362.4" width="360.0" height="1.2" fill="rgba(40,150,125,0.75)"/>
<rect x="765.5" y="447.9" width="360.0" height="1.2" fill="rgba(104,178,242,0.75)"/>
<rect x="765.5" y="556.7" width="360.0" height="1.2" fill="rgba(120,123,134,0.75)"/>
<rect x="1125.5" y="384.7" width="195.0" height="1.2" fill="rgba(120,123,134,0.75)"/>
<rect x="1125.5" y="305.3" width="195.0" height="1.2" fill="rgba(222,62,76,0.75)"/>
<rect x="1125.5" y="256.1" width="195.0" height="1.2" fill="rgba(135,198,132,0.75)"/>
<rect x="1125.5" y="216.4" width="195.0" height="1.2" fill="rgba(84,172,84,0.75)"/>
<rect x="1125.5" y="176.7" width="195.0" height="1.2" fill="rgba(40,150,125,0.75)"/>
<rect x="1125.5" y="120.2" width="195.0" height="1.2" fill="rgba(104,178,242,0.75)"/>
<rect x="1125.5" y="48.2" width="195.0" height="1.2" fill="rgba(120,123,134,0.75)"/>
<rect x="1320.5" y="235.8" width="366.0" height="1.2" fill="rgba(120,123,134,0.75)"/>
<rect x="1320.5" y="270.9" width="366.0" height="1.2" fill="rgba(222,62,76,0.75)"/>
<rect x="1320.5" y="292.7" width="366.0" height="1.2" fill="rgba(135,198,132,0.75)"/>
<rect x="1320.5" y="310.2" width="366.0" height="1.2" fill="rgba(84,172,84,0.75)"/>
<rect x="1320.5" y="327.8" width="366.0" height="1.2" fill="rgba(40,150,125,0.75)"/>
<rect x="1320.5" y="352.8" width="366.0" height="1.2" fill="rgba(104,178,242,0.75)"/>
<rect x="1320.5" y="384.7" width="366.0" height="1.2" fill="rgba(120,123,134,0.75)"/>
<line x1="765.5" y1="557.3" x2="1125.5" y2="48.8" stroke="#929294" stroke-width="1" stroke-dasharray="4.5,3.5" fill="none"/>
<line x1="1125.5" y1="48.8" x2="1320.5" y2="385.3" stroke="#929294" stroke-width="1" stroke-dasharray="4.5,3.5" fill="none"/>
<line x1="1320.5" y1="385.3" x2="1380.5" y2="236.4" stroke="#929294" stroke-width="1" stroke-dasharray="4.5,3.5" fill="none"/>
<path d="M760.5 560 a4.9 4.9 0 0 0 9.8 0" stroke="#000" stroke-width="2.2" fill="none"/>
<path d="M1120.5 45.8 a4.9 4.9 0 0 1 9.8 0" stroke="#000" stroke-width="2.2" fill="none"/>
<text x="1130.5" y="44.2" font-family="Liberation Sans, sans-serif" font-size="11.85" fill="rgba(120,123,134,0.8)">0.0% (5.2217)</text>
<text x="1130.5" y="163.7" font-family="Liberation Sans, sans-serif" font-size="11.85" fill="rgba(222,62,76,0.8)">23.6% (4.1263)</text>
<text x="1130.5" y="238.4" font-family="Liberation Sans, sans-serif" font-size="11.85" fill="rgba(135,198,132,0.8)">38.2% (3.4486)</text>
<text x="1130.5" y="298.4" font-family="Liberation Sans, sans-serif" font-size="11.85" fill="rgba(84,172,84,0.8)">50.0% (2.9009)</text>
<text x="1130.5" y="358.4" font-family="Liberation Sans, sans-serif" font-size="11.85" fill="rgba(40,150,125,0.8)">61.8% (2.3531)</text>
<text x="1130.5" y="442.9" font-family="Liberation Sans, sans-serif" font-size="11.85" fill="rgba(104,178,242,0.8)">78.6% (1.5733)</text>
<text x="1130.5" y="551.5" font-family="Liberation Sans, sans-serif" font-size="11.85" fill="rgba(120,123,134,0.8)">100.0% (0.5800)</text>
<text x="1326" y="379.7" font-family="Liberation Sans, sans-serif" font-size="11.85" fill="rgba(120,123,134,0.8)">0.0% (2.1500)</text>
<text x="1326" y="301.3" font-family="Liberation Sans, sans-serif" font-size="11.85" fill="rgba(222,62,76,0.8)">23.6% (2.8749)</text>
<text x="1326" y="252.1" font-family="Liberation Sans, sans-serif" font-size="11.85" fill="rgba(135,198,132,0.8)">38.2% (3.3234)</text>
<text x="1326" y="212.4" font-family="Liberation Sans, sans-serif" font-size="11.85" fill="rgba(84,172,84,0.8)">50.0% (3.6859)</text>
<text x="1326" y="171.7" font-family="Liberation Sans, sans-serif" font-size="11.85" fill="rgba(40,150,125,0.8)">61.8% (4.0483)</text>
<text x="1326" y="116.2" font-family="Liberation Sans, sans-serif" font-size="11.85" fill="rgba(104,178,242,0.8)">78.6% (4.5644)</text>
<text x="1326" y="44.2" font-family="Liberation Sans, sans-serif" font-size="11.85" fill="rgba(120,123,134,0.8)">100.0% (5.2217)</text>
<text x="1681.5" y="230.8" font-family="Liberation Sans, sans-serif" font-size="11.85" fill="rgba(120,123,134,0.8)" text-anchor="end">0.0% (3.5092)</text>
<text x="1681.5" y="266.9" font-family="Liberation Sans, sans-serif" font-size="11.85" fill="rgba(222,62,76,0.8)" text-anchor="end">23.6% (3.1884)</text>
<text x="1681.5" y="287.7" font-family="Liberation Sans, sans-serif" font-size="11.85" fill="rgba(135,198,132,0.8)" text-anchor="end">38.2% (2.9900)</text>
<text x="1681.5" y="306.2" font-family="Liberation Sans, sans-serif" font-size="11.85" fill="rgba(84,172,84,0.8)" text-anchor="end">50.0% (2.8296)</text>
<text x="1681.5" y="323.3" font-family="Liberation Sans, sans-serif" font-size="11.85" fill="rgba(40,150,125,0.8)" text-anchor="end">61.8% (2.6692)</text>
<text x="1681.5" y="347.8" font-family="Liberation Sans, sans-serif" font-size="11.85" fill="rgba(104,178,242,0.8)" text-anchor="end">78.6% (2.4409)</text>
<text x="1681.5" y="379.7" font-family="Liberation Sans, sans-serif" font-size="11.85" fill="rgba(120,123,134,0.8)" text-anchor="end">100.0% (2.1500)</text>
<circle cx="825.5" cy="457.2" r="15.4" fill="none" stroke="rgba(66,160,100,0.45)" stroke-width="1.45"/>
<path d="M820.9 453.3 L827.6 448.0 L827.6 467.9" fill="none" stroke="rgba(66,160,100,0.45)" stroke-width="2.4" stroke-linejoin="miter"/>
<circle cx="870.5" cy="529.9" r="15.4" fill="none" stroke="rgba(66,160,100,0.45)" stroke-width="1.45"/>
<text transform="translate(870.5,540.5) scale(0.93,1)" x="0" y="0" font-family="Liberation Sans, sans-serif" font-size="31.6" fill="rgba(66,160,100,0.45)" text-anchor="middle">2</text>
<circle cx="1035.5" cy="301" r="15.4" fill="none" stroke="rgba(66,160,100,0.45)" stroke-width="1.45"/>
<text transform="translate(1035.5,311.6) scale(0.93,1)" x="0" y="0" font-family="Liberation Sans, sans-serif" font-size="31.6" fill="rgba(66,160,100,0.45)" text-anchor="middle">3</text>
<circle cx="1065.4" cy="423.4" r="15.4" fill="none" stroke="rgba(66,160,100,0.45)" stroke-width="1.45"/>
<text transform="translate(1065.4,434.0) scale(0.93,1)" x="0" y="0" font-family="Liberation Sans, sans-serif" font-size="31.6" fill="rgba(66,160,100,0.45)" text-anchor="middle">4</text>
<circle cx="1125.5" cy="11.3" r="15.4" fill="none" stroke="rgba(66,160,100,0.45)" stroke-width="1.45"/>
<text transform="translate(1125.5,21.9) scale(0.93,1)" x="0" y="0" font-family="Liberation Sans, sans-serif" font-size="31.6" fill="rgba(66,160,100,0.45)" text-anchor="middle">5</text>
<circle cx="1200.6" cy="297.5" r="15.4" fill="none" stroke="rgba(228,84,100,0.42)" stroke-width="1.45"/>
<text transform="translate(1200.6,308.1) scale(0.93,1)" x="0" y="0" font-family="Liberation Sans, sans-serif" font-size="31.6" fill="rgba(228,84,100,0.42)" text-anchor="middle">6</text>
<circle cx="1215.6" cy="79.2" r="15.4" fill="none" stroke="rgba(228,84,100,0.42)" stroke-width="1.45"/>
<text transform="translate(1215.6,89.8) scale(0.93,1)" x="0" y="0" font-family="Liberation Sans, sans-serif" font-size="31.6" fill="rgba(228,84,100,0.42)" text-anchor="middle">7</text>
<circle cx="1320.4" cy="418.1" r="15.4" fill="none" stroke="rgba(228,84,100,0.42)" stroke-width="1.45"/>
<text transform="translate(1320.4,428.7) scale(0.93,1)" x="0" y="0" font-family="Liberation Sans, sans-serif" font-size="31.6" fill="rgba(228,84,100,0.42)" text-anchor="middle">8</text>
<circle cx="1380.3" cy="206.1" r="15.4" fill="none" stroke="rgba(66,160,100,0.45)" stroke-width="1.45"/>
<path d="M1375.7 202.2 L1382.4 196.9 L1382.4 216.8" fill="none" stroke="rgba(66,160,100,0.45)" stroke-width="2.4" stroke-linejoin="miter"/>
<circle cx="1560.3" cy="426.8" r="15.4" fill="none" stroke="rgba(66,160,100,0.45)" stroke-width="1.45"/>
<text transform="translate(1560.3,437.4) scale(0.93,1)" x="0" y="0" font-family="Liberation Sans, sans-serif" font-size="31.6" fill="rgba(66,160,100,0.45)" text-anchor="middle">2</text>
<rect x="0" y="647.2" width="1687.0" height="1.4" fill="#5b63ba"/>
<rect x="0" y="733.5" width="1687.0" height="1.4" fill="#5b63ba"/>
<line x1="-1" y1="691" x2="1686.5" y2="691" stroke="#7b83cb" stroke-width="2" stroke-dasharray="4,2,1.5,2"/>
<polyline points="0.5,739.0 15.5,737.7 30.5,728.1 45.5,698.6 60.5,685.4 75.5,686.4 90.5,703.1 105.5,682.6 120.5,646.8 135.5,648.8 150.5,630.3 165.5,619.7 180.5,639.9 195.5,638.7 210.5,652.6 225.5,672.0 240.5,669.5 255.5,696.5 270.5,646.2 285.5,625.3 300.5,632.1 315.5,621.5 330.5,634.1 345.5,622.2 360.5,632.9 375.5,661.9 390.5,640.4 405.5,623.2 420.5,634.6 435.5,633.6 450.5,644.7 465.5,629.6 480.5,622.2 495.5,657.6 510.5,741.0 525.5,757.2 540.5,720.8 555.5,694.3 570.5,704.1 585.5,685.4 600.5,727.1 615.5,709.9 630.5,704.1 645.5,728.1 660.5,717.5 675.5,721.3 690.5,720.8 705.5,673.8 720.5,760.0 735.5,755.4 750.5,754.9 765.5,739.0 780.5,720.8 795.5,706.6 810.5,702.4 825.5,703.1 840.5,708.7 855.5,715.7 870.5,689.2 885.5,678.3 900.5,667.5 915.5,645.0 930.5,640.9 945.5,625.3 960.5,623.2 975.5,624.8 990.5,620.7 1005.5,628.6 1020.5,622.2 1035.5,630.3 1050.5,668.2 1065.5,645.5 1080.5,632.9 1095.5,629.6 1110.5,679.9 1125.5,668.5 1140.5,672.0 1155.5,679.4 1170.5,691.5 1185.5,686.7 1200.5,705.1 1215.5,688.5 1230.5,701.8 1245.5,705.4 1260.5,712.0 1275.5,737.7 1290.5,756.2 1305.5,760.0 1320.5,757.9 1335.5,745.8 1350.5,715.5 1365.5,708.2 1380.5,697.5 1395.5,719.3 1410.5,728.4 1425.5,732.2 1440.5,699.1 1455.5,712.5 1470.5,712.5 1485.5,723.1 1500.5,737.7 1515.5,722.3 1530.5,739.5 1545.5,755.9 1560.5,751.6 1575.5,754.7" fill="none" stroke="#f28a0e" stroke-width="2" stroke-linejoin="round" stroke-linecap="round"/>
<polyline points="0.5,752.9 15.5,744.8 30.5,735.2 45.5,721.8 60.5,704.1 75.5,690.2 90.5,691.7 105.5,690.5 120.5,677.1 135.5,659.4 150.5,642.2 165.5,632.9 180.5,629.8 195.5,632.9 210.5,643.5 225.5,654.3 240.5,664.7 255.5,679.6 270.5,670.8 285.5,656.1 300.5,634.1 315.5,626.0 330.5,629.1 345.5,626.0 360.5,629.8 375.5,639.2 390.5,645.5 405.5,642.2 420.5,632.9 435.5,630.3 450.5,637.9 465.5,635.9 480.5,631.8 495.5,636.6 510.5,674.6 525.5,718.3 540.5,739.8 555.5,723.8 570.5,707.4 585.5,694.8 600.5,705.6 615.5,707.9 630.5,713.7 645.5,714.2 660.5,716.8 675.5,722.3 690.5,719.8 705.5,705.6 720.5,718.0 735.5,730.1 750.5,756.7 765.5,750.4 780.5,738.2 795.5,722.6 810.5,710.4 825.5,704.4 840.5,704.4 855.5,709.7 870.5,704.4 885.5,693.5 900.5,678.3 915.5,663.2 930.5,651.0 945.5,637.4 960.5,630.3 975.5,625.3 990.5,623.2 1005.5,625.3 1020.5,624.0 1035.5,627.0 1050.5,640.4 1065.5,648.0 1080.5,649.0 1095.5,636.1 1110.5,647.3 1125.5,659.4 1140.5,673.5 1155.5,673.5 1170.5,680.9 1185.5,685.4 1200.5,694.5 1215.5,693.8 1230.5,698.6 1245.5,698.6 1260.5,706.4 1275.5,718.0 1290.5,735.2 1305.5,751.6 1320.5,758.2 1335.5,754.7 1350.5,738.5 1365.5,723.1 1380.5,707.2 1395.5,708.7 1410.5,715.0 1425.5,726.4 1440.5,719.5 1455.5,714.2 1470.5,708.2 1485.5,716.2 1500.5,724.3 1515.5,728.1 1530.5,733.4 1545.5,739.5 1560.5,749.1 1575.5,754.2" fill="none" stroke="#10a84a" stroke-width="2" stroke-linejoin="round" stroke-linecap="round"/>
<rect x="1686.0" y="4" width="2" height="598" fill="#e7e7e7"/>
<rect x="1686.0" y="607" width="2" height="167" fill="#e7e7e7"/>
<rect x="0" y="603.6" width="1686.5" height="2" fill="#b9b9b9"/>
<text x="1698.6" y="22.1" font-family="Liberation Sans, sans-serif" font-size="12" fill="#222" textLength="37.4" lengthAdjust="spacingAndGlyphs">5.5000</text>
<text x="1698.6" y="76.9" font-family="Liberation Sans, sans-serif" font-size="12" fill="#222" textLength="37.4" lengthAdjust="spacingAndGlyphs">5.0000</text>
<text x="1698.6" y="131.7" font-family="Liberation Sans, sans-serif" font-size="12" fill="#222" textLength="37.4" lengthAdjust="spacingAndGlyphs">4.5000</text>
<text x="1698.6" y="186.5" font-family="Liberation Sans, sans-serif" font-size="12" fill="#222" textLength="37.4" lengthAdjust="spacingAndGlyphs">4.0000</text>
<text x="1698.6" y="241.3" font-family="Liberation Sans, sans-serif" font-size="12" fill="#222" textLength="37.4" lengthAdjust="spacingAndGlyphs">3.5000</text>
<text x="1698.6" y="296.1" font-family="Liberation Sans, sans-serif" font-size="12" fill="#222" textLength="37.4" lengthAdjust="spacingAndGlyphs">3.0000</text>
<text x="1698.6" y="350.9" font-family="Liberation Sans, sans-serif" font-size="12" fill="#222" textLength="37.4" lengthAdjust="spacingAndGlyphs">2.5000</text>
<text x="1698.6" y="405.7" font-family="Liberation Sans, sans-serif" font-size="12" fill="#222" textLength="37.4" lengthAdjust="spacingAndGlyphs">2.0000</text>
<text x="1698.6" y="460.5" font-family="Liberation Sans, sans-serif" font-size="12" fill="#222" textLength="37.4" lengthAdjust="spacingAndGlyphs">1.5000</text>
<text x="1698.6" y="515.3" font-family="Liberation Sans, sans-serif" font-size="12" fill="#222" textLength="37.4" lengthAdjust="spacingAndGlyphs">1.0000</text>
<text x="1698.6" y="570.1" font-family="Liberation Sans, sans-serif" font-size="12" fill="#222" textLength="37.4" lengthAdjust="spacingAndGlyphs">0.5000</text>
<text x="1698.6" y="623" font-family="Liberation Sans, sans-serif" font-size="12" fill="#222" textLength="37.4" lengthAdjust="spacingAndGlyphs">100.00</text>
<text x="1698.6" y="694.9" font-family="Liberation Sans, sans-serif" font-size="12" fill="#222" textLength="30.4" lengthAdjust="spacingAndGlyphs">50.00</text>
<text x="1699.6" y="767.2" font-family="Liberation Sans, sans-serif" font-size="12" fill="#222" textLength="22" lengthAdjust="spacingAndGlyphs">0.00</text>
<path d="M1686 388.4 L1693.3 378 L1739.8 378 L1739.8 398.8 L1693.3 398.8 Z" fill="#000"/>
<text x="1697.4" y="391" font-family="Liberation Sans, sans-serif" font-size="12" font-weight="bold" fill="#fff" textLength="37.6" lengthAdjust="spacingAndGlyphs">2.1219</text>
<path d="M1686 753.9 L1693.3 743.8 L1726 743.8 L1726 764.6 L1693.3 764.6 Z" fill="#10a84a"/>
<path d="M1686 755 L1693.3 744.8 L1726 744.8 L1726 765.8 L1693.3 765.8 Z" fill="#f28c0a"/>
<text x="1697.4" y="758" font-family="Liberation Sans, sans-serif" font-size="12" font-weight="bold" fill="#000" textLength="23.8" lengthAdjust="spacingAndGlyphs">5.37</text>
<text x="3.2" y="791.7" font-family="Liberation Sans, sans-serif" font-size="12" fill="#555" textLength="15" lengthAdjust="spacingAndGlyphs">'16</text>
<text x="74.0" y="791.7" font-family="Liberation Sans, sans-serif" font-size="12" fill="#555" textLength="32.6" lengthAdjust="spacingAndGlyphs">Jul '16</text>
<text x="162.2" y="791.7" font-family="Liberation Sans, sans-serif" font-size="12" fill="#555" textLength="36.2" lengthAdjust="spacingAndGlyphs">Jan '17</text>
<text x="254.0" y="791.7" font-family="Liberation Sans, sans-serif" font-size="12" fill="#555" textLength="32.6" lengthAdjust="spacingAndGlyphs">Jul '17</text>
<text x="342.2" y="791.7" font-family="Liberation Sans, sans-serif" font-size="12" fill="#555" textLength="36.2" lengthAdjust="spacingAndGlyphs">Jan '18</text>
<text x="434.0" y="791.7" font-family="Liberation Sans, sans-serif" font-size="12" fill="#555" textLength="32.6" lengthAdjust="spacingAndGlyphs">Jul '18</text>
<text x="522.2" y="791.7" font-family="Liberation Sans, sans-serif" font-size="12" fill="#555" textLength="36.2" lengthAdjust="spacingAndGlyphs">Jan '19</text>
<text x="614.0" y="791.7" font-family="Liberation Sans, sans-serif" font-size="12" fill="#555" textLength="32.6" lengthAdjust="spacingAndGlyphs">Jul '19</text>
<text x="702.2" y="791.7" font-family="Liberation Sans, sans-serif" font-size="12" fill="#555" textLength="36.2" lengthAdjust="spacingAndGlyphs">Jan '20</text>
<text x="794.0" y="791.7" font-family="Liberation Sans, sans-serif" font-size="12" fill="#555" textLength="32.6" lengthAdjust="spacingAndGlyphs">Jul '20</text>
<text x="882.2" y="791.7" font-family="Liberation Sans, sans-serif" font-size="12" fill="#555" textLength="36.2" lengthAdjust="spacingAndGlyphs">Jan '21</text>
<text x="974.0" y="791.7" font-family="Liberation Sans, sans-serif" font-size="12" fill="#555" textLength="32.6" lengthAdjust="spacingAndGlyphs">Jul '21</text>
<text x="1062.2" y="791.7" font-family="Liberation Sans, sans-serif" font-size="12" fill="#555" textLength="36.2" lengthAdjust="spacingAndGlyphs">Jan '22</text>
<text x="1154.0" y="791.7" font-family="Liberation Sans, sans-serif" font-size="12" fill="#555" textLength="32.6" lengthAdjust="spacingAndGlyphs">Jul '22</text>
<text x="1242.2" y="791.7" font-family="Liberation Sans, sans-serif" font-size="12" fill="#555" textLength="36.2" lengthAdjust="spacingAndGlyphs">Jan '23</text>
<text x="1334.0" y="791.7" font-family="Liberation Sans, sans-serif" font-size="12" fill="#555" textLength="32.6" lengthAdjust="spacingAndGlyphs">Jul '23</text>
<text x="1422.2" y="791.7" font-family="Liberation Sans, sans-serif" font-size="12" fill="#555" textLength="36.2" lengthAdjust="spacingAndGlyphs">Jan '24</text>
<text x="1514.0" y="791.7" font-family="Liberation Sans, sans-serif" font-size="12" fill="#555" textLength="32.6" lengthAdjust="spacingAndGlyphs">Jul '24</text>
<text x="1602.2" y="791.7" font-family="Liberation Sans, sans-serif" font-size="12" fill="#555" textLength="36.2" lengthAdjust="spacingAndGlyphs">Jan '25</text>
<text x="3.7" y="20" font-family="Liberation Sans, sans-serif" font-size="14" fill="#111" textLength="23.5" lengthAdjust="spacingAndGlyphs">Oct</text>
<text x="30.9" y="20" font-family="Liberation Sans, sans-serif" font-size="14" fill="#111" textLength="32.8" lengthAdjust="spacingAndGlyphs">2024</text>
<text x="68.6" y="20" font-family="Liberation Sans, sans-serif" font-size="14" fill="#111" textLength="36.0" lengthAdjust="spacingAndGlyphs">ULSD</text>
<text x="109.1" y="20" font-family="Liberation Sans, sans-serif" font-size="14" fill="#111" textLength="17.7" lengthAdjust="spacingAndGlyphs">NY</text>
<text x="131.2" y="20" font-family="Liberation Sans, sans-serif" font-size="14" fill="#111" textLength="47.1" lengthAdjust="spacingAndGlyphs">Harbor</text>
<text x="182.6" y="20" font-family="Liberation Sans, sans-serif" font-size="14" fill="#111" textLength="55.9" lengthAdjust="spacingAndGlyphs">(HOX24)</text>
<text x="242.2" y="20" font-family="Liberation Sans, sans-serif" font-size="14" fill="#111" textLength="56.9" lengthAdjust="spacingAndGlyphs">[NYMEX]</text>
<text x="304.2" y="20" font-family="Liberation Sans, sans-serif" font-size="14" fill="#999" textLength="11.2" lengthAdjust="spacingAndGlyphs">O</text>
<text x="317.0" y="20" font-family="Liberation Sans, sans-serif" font-size="14" fill="#111" textLength="44.8" lengthAdjust="spacingAndGlyphs">2.1576</text>
<text x="366.9" y="20" font-family="Liberation Sans, sans-serif" font-size="14" fill="#999" textLength="10.1" lengthAdjust="spacingAndGlyphs">H</text>
<text x="378.1" y="20" font-family="Liberation Sans, sans-serif" font-size="14" fill="#111" textLength="45.6" lengthAdjust="spacingAndGlyphs">2.1596</text>
<text x="428.8" y="20" font-family="Liberation Sans, sans-serif" font-size="14" fill="#999" textLength="7.7" lengthAdjust="spacingAndGlyphs">L</text>
<text x="436.3" y="20" font-family="Liberation Sans, sans-serif" font-size="14" fill="#111" textLength="45.2" lengthAdjust="spacingAndGlyphs">2.1217</text>
<text x="487.1" y="20" font-family="Liberation Sans, sans-serif" font-size="14" fill="#999" textLength="9.2" lengthAdjust="spacingAndGlyphs">C</text>
<text x="496.8" y="20" font-family="Liberation Sans, sans-serif" font-size="14" fill="#111" textLength="45.3" lengthAdjust="spacingAndGlyphs">2.1219</text>
<text x="546.7" y="20" font-family="Liberation Sans, sans-serif" font-size="14" fill="#999" textLength="9.1" lengthAdjust="spacingAndGlyphs">Δ</text>
<text x="555.6" y="20" font-family="Liberation Sans, sans-serif" font-size="14" fill="#111" textLength="50.0" lengthAdjust="spacingAndGlyphs">-0.0325</text>
<text x="3.9" y="622.8" font-family="Liberation Sans, sans-serif" font-size="14" fill="#111" textLength="71.2" lengthAdjust="spacingAndGlyphs">Stochastic,</text>
<text x="78.8" y="622.8" font-family="Liberation Sans, sans-serif" font-size="14" fill="#111" textLength="28.0" lengthAdjust="spacingAndGlyphs">Fast</text>
<text x="110.1" y="622.8" font-family="Liberation Sans, sans-serif" font-size="14" fill="#111" textLength="23.4" lengthAdjust="spacingAndGlyphs">(14,</text>
<text x="138.3" y="622.8" font-family="Liberation Sans, sans-serif" font-size="14" fill="#111" textLength="10.4" lengthAdjust="spacingAndGlyphs">3,</text>
<text x="153.1" y="622.8" font-family="Liberation Sans, sans-serif" font-size="14" fill="#111" textLength="26.7" lengthAdjust="spacingAndGlyphs">MA)</text>
<text x="186.8" y="622.8" font-family="Liberation Sans, sans-serif" font-size="14" fill="#111" textLength="23.4" lengthAdjust="spacingAndGlyphs">(14,</text>
<text x="215.0" y="622.8" font-family="Liberation Sans, sans-serif" font-size="14" fill="#111" textLength="10.4" lengthAdjust="spacingAndGlyphs">3,</text>
<text x="230.1" y="622.8" font-family="Liberation Sans, sans-serif" font-size="14" fill="#111" textLength="27.5" lengthAdjust="spacingAndGlyphs">MA)</text>
<text x="262.7" y="622.8" font-family="Liberation Sans, sans-serif" font-size="14" fill="#f28a0e" textLength="28.1" lengthAdjust="spacingAndGlyphs">5.37</text>
<text x="295.8" y="622.8" font-family="Liberation Sans, sans-serif" font-size="14" fill="#10a84a" textLength="28.7" lengthAdjust="spacingAndGlyphs">5.93</text>
<rect x="0" y="0" width="1741" height="3" fill="#dde1e5"/>
<rect x="0" y="2.6" width="1741" height="1.4" fill="#58595b"/>
</g>
</svg>
</body></html>
